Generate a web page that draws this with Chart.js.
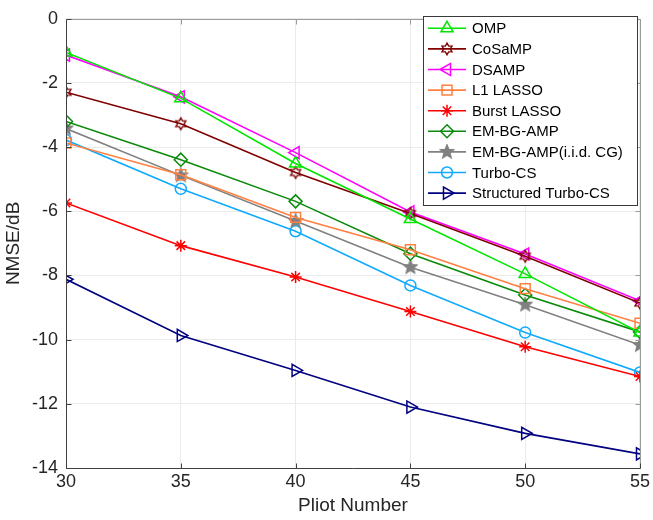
<!DOCTYPE html>
<html>
<head>
<meta charset="utf-8">
<script src="https://cdn.jsdelivr.net/npm/chart.js@4.4.1/dist/chart.umd.min.js"></script>
<style>
  html, body { margin: 0; padding: 0; background: #fff; }
  #wrap { width: 653px; height: 520px; }
</style>
</head>
<body>
<div id="wrap"><canvas id="nmseChart" width="653" height="520"></canvas></div>
<script>
'use strict';

// x axis: pilot numbers
const pilots = [30, 35, 40, 45, 50, 55];

// NMSE (dB) per algorithm
const omp           = [-1.05, -2.48, -4.51, -6.24, -7.95, -9.78];
const cosamp        = [-2.29, -3.27, -4.79, -6.07, -7.40, -8.86];
const dsamp         = [-1.13, -2.43, -4.17, -6.02, -7.33, -8.79];
const l1Lasso       = [-3.87, -4.86, -6.19, -7.20, -8.41, -9.49];
const burstLasso    = [-5.74, -7.07, -8.05, -9.12, -10.22, -11.15];
const emBgAmp       = [-3.20, -4.39, -5.69, -7.32, -8.61, -9.76];
const emBgAmpIid    = [-3.42, -4.88, -6.30, -7.74, -8.91, -10.17];
const turboCs       = [-3.78, -5.30, -6.62, -8.31, -9.78, -11.02];
const structTurboCs = [-8.12, -9.87, -10.96, -12.10, -12.92, -13.56];

const seriesNames = ["OMP", "CoSaMP", "DSAMP", "L1 LASSO", "Burst LASSO",
  "EM-BG-AMP", "EM-BG-AMP(i.i.d. CG)", "Turbo-CS", "Structured Turbo-CS"];

const FONT = "'Liberation Sans', Arial, Helvetica, sans-serif";

/**
 * star markers drawn on small canvases
 */

const makeStar = function (points, outer, inner, color, fill) {
  const c = document.createElement("canvas");
  c.width = 16; c.height = 16;
  const g = c.getContext("2d");
  g.beginPath();
  for (let i = 0; i < points * 2; i++) {
    const r = i % 2 === 0 ? outer : inner;
    const a = -Math.PI / 2 + i * Math.PI / points;
    const px = 8 + r * Math.cos(a), py = 8 + r * Math.sin(a);
    if (i === 0) g.moveTo(px, py); else g.lineTo(px, py);
  }
  g.closePath();
  if (fill) { g.fillStyle = color; g.fill(); }
  g.strokeStyle = color;
  g.lineWidth = 1.4;
  g.stroke();
  return c;
}

const hexagram = makeStar(6, 5.8, 3.3, "#800000", false);
const pentagram = makeStar(5, 7, 3.1, "#808080", true);

const styles = [
  { color: "#00e600", pointStyle: "triangle", rotation: 0, radius: 7 },
  { color: "#800000", pointStyle: hexagram, rotation: 0, radius: 6 },
  { color: "#ff00ff", pointStyle: "triangle", rotation: -90, radius: 7 },
  { color: "#ff8040", pointStyle: "rect", rotation: 0, radius: 7 },
  { color: "#ff0000", pointStyle: "star", rotation: 0, radius: 6 },
  { color: "#0a8a0a", pointStyle: "rectRot", rotation: 0, radius: 6.5 },
  { color: "#808080", pointStyle: pentagram, rotation: 0, radius: 7 },
  { color: "#10aaff", pointStyle: "circle", rotation: 0, radius: 5.5 },
  { color: "#000080", pointStyle: "triangle", rotation: 90, radius: 7 }
];

const allSeries = [omp, cosamp, dsamp, l1Lasso, burstLasso, emBgAmp, emBgAmpIid, turboCs, structTurboCs];

const datasets = allSeries.map(function (vals, i) {
  const s = styles[i];
  return {
    label: seriesNames[i],
    data: pilots.map(function (p, j) { return { x: p, y: vals[j] }; }),
    borderColor: s.color,
    backgroundColor: "rgba(0,0,0,0)",
    borderWidth: 1.6,
    pointStyle: s.pointStyle,
    pointRotation: s.rotation,
    pointRadius: s.radius,
    pointBorderWidth: 1.5,
    pointBorderColor: s.color,
    pointBackgroundColor: "rgba(0,0,0,0)",
    tension: 0
  };
});

/**
 * axes box with inward ticks, and the legend box
 */

const boxPlugin = {
  id: "matlabBox",
  afterDatasetsDraw: function (chart) {
    const ctx = chart.ctx;
    const a = chart.chartArea;
    const xs = chart.scales.x, ys = chart.scales.y;
    const L = Math.round(a.left) + 0.5, R = Math.round(a.right) + 0.5;
    const T = Math.round(a.top) + 0.5, B = Math.round(a.bottom) + 0.5;
    ctx.save();
    ctx.lineWidth = 1;

    // top / right edges, lighter
    ctx.strokeStyle = "#9a9a9a";
    ctx.beginPath();
    ctx.moveTo(L, T); ctx.lineTo(R, T); ctx.lineTo(R, B);
    xs.ticks.forEach(function (t) {
      const px = Math.round(xs.getPixelForValue(t.value)) + 0.5;
      ctx.moveTo(px, T); ctx.lineTo(px, T + 5);
    });
    ys.ticks.forEach(function (t) {
      const py = Math.round(ys.getPixelForValue(t.value)) + 0.5;
      ctx.moveTo(R, py); ctx.lineTo(R - 5, py);
    });
    ctx.stroke();

    // left / bottom axes
    ctx.strokeStyle = "#404040";
    ctx.beginPath();
    ctx.moveTo(L, T); ctx.lineTo(L, B); ctx.lineTo(R, B);
    xs.ticks.forEach(function (t) {
      const px = Math.round(xs.getPixelForValue(t.value)) + 0.5;
      ctx.moveTo(px, B); ctx.lineTo(px, B - 5);
    });
    ys.ticks.forEach(function (t) {
      const py = Math.round(ys.getPixelForValue(t.value)) + 0.5;
      ctx.moveTo(L, py); ctx.lineTo(L + 5, py);
    });
    ctx.stroke();

    // legend
    const lx = 423, ly = 16, lw = 214, lh = 189, row = 20.6;
    ctx.fillStyle = "#fff";
    ctx.fillRect(lx, ly, lw, lh);
    ctx.strokeStyle = "#3a3a3a";
    ctx.strokeRect(lx + 0.5, ly + 0.5, lw, lh);
    ctx.font = "15px " + FONT;
    ctx.textBaseline = "middle";
    chart.data.datasets.forEach(function (ds, i) {
      const cy = ly + 12.3 + i * row;
      ctx.strokeStyle = ds.borderColor;
      ctx.lineWidth = 1.6;
      ctx.beginPath();
      ctx.moveTo(428, cy); ctx.lineTo(466, cy);
      ctx.stroke();
      ctx.fillStyle = "rgba(0,0,0,0)";
      ctx.lineWidth = 1.5;
      Chart.helpers.drawPoint(ctx, {
        pointStyle: ds.pointStyle,
        rotation: ds.pointRotation,
        radius: ds.pointRadius,
        borderWidth: 1.5
      }, 447, cy);
      ctx.fillStyle = "#000";
      ctx.fillText(ds.label, 472, cy + 1);
    });
    ctx.restore();
  }
};

const ctx = document.getElementById("nmseChart").getContext("2d");
const nmseChart = new Chart(ctx, {
  type: "line",
  data: { datasets: datasets },
  plugins: [boxPlugin],
  options: {
    responsive: false,
    animation: false,
    layout: { padding: { top: 13, right: 10, left: 0, bottom: 0 } },
    plugins: {
      legend: { display: false },
      tooltip: { enabled: false }
    },
    scales: {
      x: {
        type: "linear",
        min: 30,
        max: 55,
        ticks: {
          stepSize: 5,
          padding: 3,
          color: "#262626",
          font: { family: FONT, size: 18 }
        },
        grid: { color: "#ebebeb", drawTicks: false },
        border: { display: false },
        title: {
          display: true,
          text: "Pliot Number",
          color: "#262626",
          padding: { top: 1, bottom: 3 },
          font: { family: FONT, size: 19 }
        },
        afterFit: function (s) { s.height = 52; }
      },
      y: {
        min: -14,
        max: 0,
        ticks: {
          stepSize: 2,
          padding: 8,
          color: "#262626",
          font: { family: FONT, size: 18 }
        },
        grid: { color: "#ebebeb", drawTicks: false },
        border: { display: false },
        title: {
          display: true,
          text: "NMSE/dB",
          color: "#262626",
          padding: { top: 2, bottom: 2 },
          font: { family: FONT, size: 19 }
        },
        afterFit: function (s) { s.width = 66; }
      }
    }
  }
});
</script>
</body>
</html>
